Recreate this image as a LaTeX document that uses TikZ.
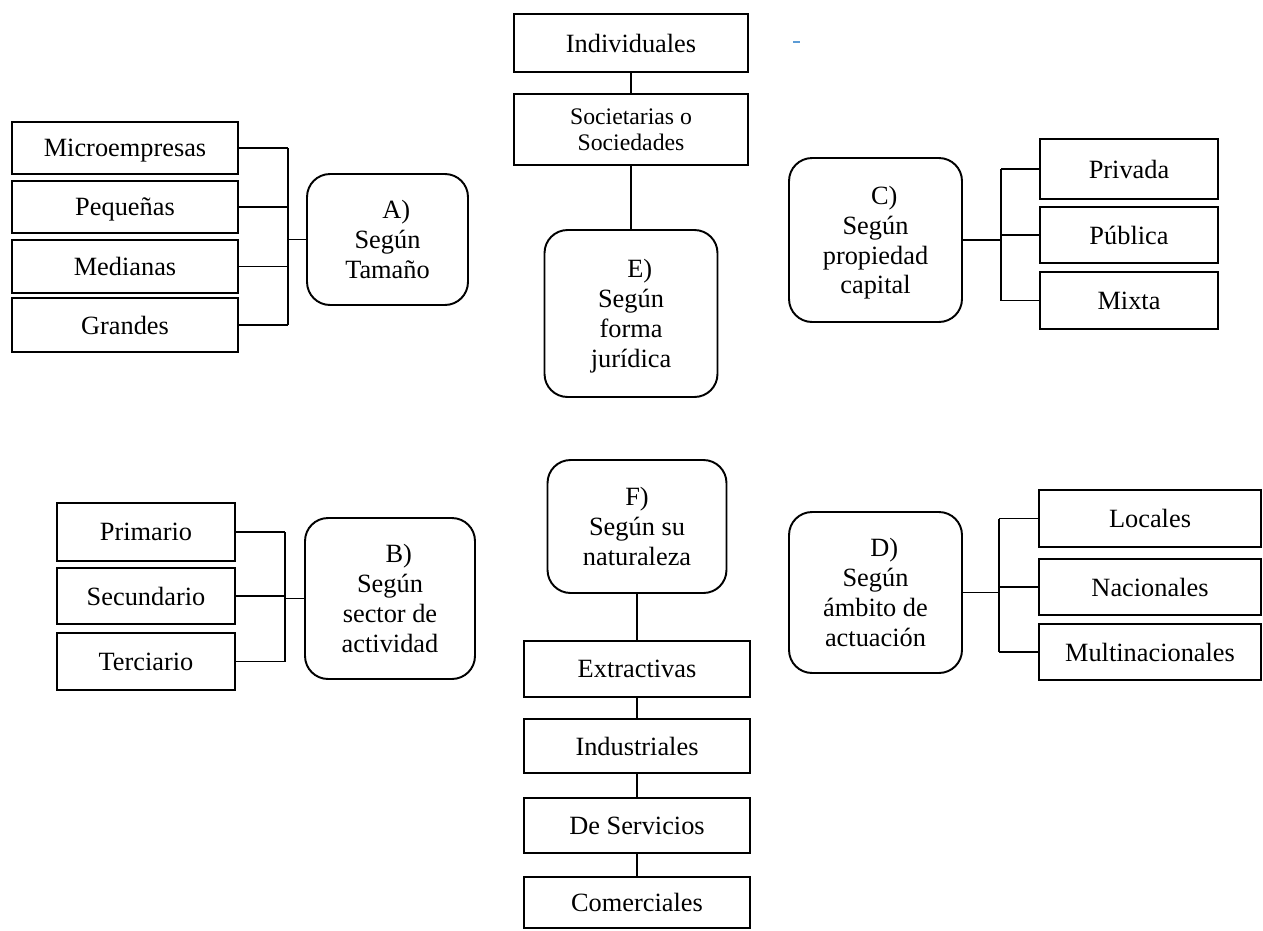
\documentclass[tikz,border=0pt]{standalone}
\usepackage{fontspec}
\setmainfont{Liberation Serif}
\definecolor{azulmarca}{RGB}{91,155,213}

\begin{document}
\begin{tikzpicture}
			[x=0.02cm, y=-0.02cm,
			every node/.style={draw, line width=1.1pt, align=center, inner sep=0pt, text depth=0pt,
				font=\fontsize{15}{17}\selectfont},
			caja/.style={minimum width=4.52cm, minimum height=1.08cm},
			cajac/.style={minimum width=3.56cm, minimum height=1.14cm},
			redonda/.style={rounded corners=4.6mm, minimum width=3.46cm},
			linea/.style={line width=0.6pt}]
			\useasboundingbox (0,0) rectangle (1263,930);
			% A) tamano
			\node[caja, minimum height=1.04cm] (micro) at (125,148) {Microempresas};
			\node[caja, minimum height=1.04cm] (pequenas) at (125,207) {Pequeñas};
			\node[caja, minimum height=1.06cm] (medianas) at (125,266.5) {Medianas};
			\node[caja] (grandes) at (125,325) {Grandes};
			\node[redonda, minimum width=3.22cm, minimum height=2.62cm] (tamano) at (387.5,239.5)
				{\hspace*{10pt}A)\\Según\\Tamaño};
			% E) forma juridica
			\node[caja, minimum width=4.68cm, minimum height=1.16cm] (indiv) at (631,43) {Individuales};
			\node[caja, minimum width=4.68cm, minimum height=1.42cm,
				font=\fontsize{13.5}{15}\selectfont] (soc) at (631,129.5) {Societarias o\\Sociedades};
			\node[redonda, minimum height=3.34cm] (forma) at (631,313.5)
				{\hspace*{10pt}E)\\Según\\forma\\jurídica};
			% C) propiedad
			\node[redonda, minimum height=3.28cm] (propiedad) at (875.5,240)
				{\hspace*{10pt}C)\\Según\\propiedad\\capital};
			\node[cajac, minimum height=1.2cm] (privada) at (1129,169) {Privada};
			\node[cajac, minimum height=1.12cm] (publica) at (1129,235) {Pública};
			\node[cajac] (mixta) at (1129,300.5) {Mixta};
			% B) sector
			\node[cajac, minimum height=1.16cm] (primario) at (146,532) {Primario};
			\node[cajac, minimum height=1.12cm] (secundario) at (146,596) {Secundario};
			\node[cajac] (terciario) at (146,661.5) {Terciario};
			\node[redonda, minimum width=3.4cm, minimum height=3.22cm] (sector) at (390,598.5)
				{\hspace*{10pt}B)\\Según\\sector de\\actividad};
			% F) naturaleza
			\node[redonda, minimum width=3.58cm, minimum height=2.66cm] (naturaleza) at (637,526.5)
				{F)\\Según su\\naturaleza};
			\node[caja, minimum height=1.12cm] (extractivas) at (637,669) {Extractivas};
			\node[caja] (industriales) at (637,746) {Industriales};
			\node[caja, minimum height=1.1cm] (servicios) at (637,825.5) {De Servicios};
			\node[caja, minimum height=1.02cm] (comerciales) at (637,902.5) {Comerciales};
			% D) ambito
			\node[redonda, minimum height=3.22cm] (ambito) at (875.5,592.5)
				{\hspace*{10pt}D)\\Según\\ámbito de\\actuación};
			\node[caja, minimum width=4.44cm, minimum height=1.14cm] (locales) at (1150,518.5) {Locales};
			\node[caja, minimum width=4.44cm, minimum height=1.12cm] (nacionales) at (1150,587) {Nacionales};
			\node[caja, minimum width=4.44cm, minimum height=1.12cm] (multi) at (1150,652) {Multinacionales};
			% llaves
			\coordinate (barraA) at (288,0);
			\coordinate (barraB) at (285,0);
			\coordinate (barraC) at (1001,0);
			\coordinate (barraD) at (999,0);
			\foreach \n in {micro,pequenas,medianas,grandes}
				\draw[linea] (\n.east) -- (\n.east -| barraA);
			\draw[linea] (barraA |- micro.east) -- (barraA |- grandes.east);
			\draw[linea] (tamano.west) -- (tamano.west -| barraA);
			\foreach \n in {primario,secundario,terciario}
				\draw[linea] (\n.east) -- (\n.east -| barraB);
			\draw[linea] (barraB |- primario.east) -- (barraB |- terciario.east);
			\draw[linea] (sector.west) -- (sector.west -| barraB);
			\foreach \n in {privada,publica,mixta}
				\draw[linea] (\n.west) -- (\n.west -| barraC);
			\draw[linea] (barraC |- privada.west) -- (barraC |- mixta.west);
			\draw[linea] (propiedad.east) -- (propiedad.east -| barraC);
			\foreach \n in {locales,nacionales,multi}
				\draw[linea] (\n.west) -- (\n.west -| barraD);
			\draw[linea] (barraD |- locales.west) -- (barraD |- multi.west);
			\draw[linea] (ambito.east) -- (ambito.east -| barraD);
			% cadenas
			\draw[linea] (indiv) -- (soc) -- (forma);
			\draw[linea] (naturaleza) -- (extractivas) -- (industriales) -- (servicios) -- (comerciales);
			\draw[line width=0.6pt, azulmarca] (793,42) -- (800,42);
		\end{tikzpicture}
\end{document}
